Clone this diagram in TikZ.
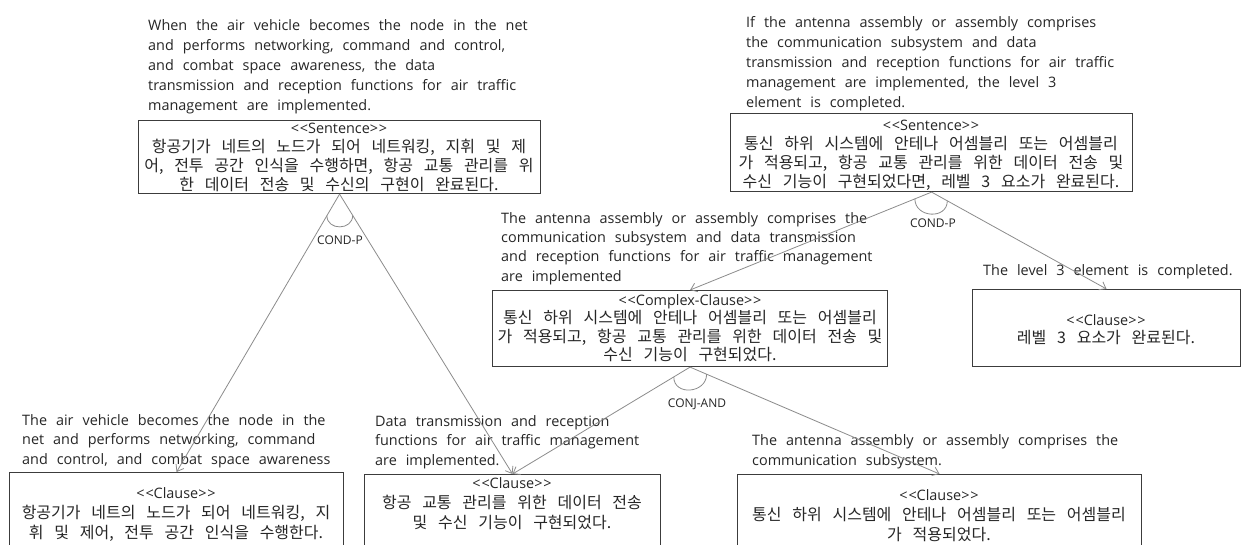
\documentclass[tikz,border=0pt]{standalone}
\usepackage{fontspec}
\setmainfont{Open Sans}[WordSpace=2.4]
\newfontfamily\krfont{Noto Sans CJK KR}[WordSpace=3]
\usetikzlibrary{arrows.meta,calc}

\definecolor{ink}{HTML}{262626}
\definecolor{edge}{HTML}{8C8C8C}
\definecolor{frame}{HTML}{3C3C3C}

% stereotype line set in the Latin face
\newcommand{\stereo}[1]{{\normalfont\fontsize{14.4}{19}\selectfont <\kern0.8pt<#1>\kern0.8pt>}}

\begin{document}
\begin{tikzpicture}[x=1pt,y=-1pt,
  note/.style={anchor=base west, align=left, inner sep=0pt,
    font=\fontsize{14.4}{#1}\selectfont, text=ink},
  note/.default=19.7,
  boxtext/.style={anchor=base, align=center, inner sep=0pt,
    font=\fontsize{16}{#1}\krfont, text=ink},
  boxtext/.default=19,
  frame/.style={draw=frame, line width=1.1pt, anchor=north west, inner sep=0pt},
  conn/.style={draw=edge, line width=0.8pt, -{Straight Barb[length=6pt,width=9pt]}},
  joint/.style={draw=edge, line width=0.8pt},
  rel/.style={font=\fontsize{12}{12}\selectfont, text=ink, inner sep=0pt}]

\path[use as bounding box] (0,0) rectangle (1242,544);
\fill[white] (0,0) rectangle (1242,544);
\clip (0,0) rectangle (1242,544);

% ---- frames ----
\node[frame, minimum width=402pt, minimum height=73pt] (s1) at (138,120) {};
\node[frame, minimum width=402pt, minimum height=78pt] (s2) at (730,113) {};
\node[frame, minimum width=395pt, minimum height=76pt] (cc) at (492,290) {};
\node[frame, minimum width=268pt, minimum height=77pt] (l3) at (972,289) {};
\node[frame, minimum width=334pt, minimum height=100pt] (c1) at (9,472) {};
\node[frame, minimum width=296pt, minimum height=100pt] (c2) at (364,474) {};
\node[frame, minimum width=404pt, minimum height=100pt] (c3) at (737,474) {};

% ---- frame contents (placed by the baseline of the last line) ----
\node[boxtext=19] (s1t) at (339,190.5) {\stereo{Sentence}\\
  항공기가 네트의 노드가 되어 네트워킹, 지휘 및 제\\
  어, 전투 공간 인식을 수행하면, 항공 교통 관리를 위\\
  한 데이터 전송 및 수신의 구현이 완료된다.};
\node[boxtext=19] (s2t) at (931,187) {\stereo{Sentence}\\
  통신 하위 시스템에 안테나 어셈블리 또는 어셈블리\\
  가 적용되고, 항공 교통 관리를 위한 데이터 전송 및\\
  수신 기능이 구현되었다면, 레벨 3 요소가 완료된다.};
\node[boxtext=18.5] (cct) at (690,360.5) {\stereo{Complex-Clause}\\
  통신 하위 시스템에 안테나 어셈블리 또는 어셈블리\\
  가 적용되고, 항공 교통 관리를 위한 데이터 전송 및\\
  수신 기능이 구현되었다.};
\node[boxtext=18] (l3t) at (1106,343.5) {\stereo{Clause}\\
  레벨 3 요소가 완료된다.};
\node[boxtext=20] (c1t) at (176,538.5) {\stereo{Clause}\\
  항공기가 네트의 노드가 되어 네트워킹, 지\\
  휘 및 제어, 전투 공간 인식을 수행한다.};
\node[boxtext=20] (c2t) at (512,528.5) {\stereo{Clause}\\
  항공 교통 관리를 위한 데이터 전송\\
  및 수신 기능이 구현되었다.};
\node[boxtext=20] (c3t) at (939,540.5) {\stereo{Clause}\\
  통신 하위 시스템에 안테나 어셈블리 또는 어셈블리\\
  가 적용되었다.};

% ---- English glosses (placed by the baseline of the last line) ----
\node[note=20] (n1) at (148,110) {When the air vehicle becomes the node in the net\\
  and performs networking, command and control,\\
  and combat space awareness, the data\\
  transmission and reception functions for air traffic\\
  management are implemented.};
\node[note=20] (n2) at (746,107) {If the antenna assembly or assembly comprises\\
  the communication subsystem and data\\
  transmission and reception functions for air traffic\\
  management are implemented, the level 3\\
  element is completed.};
\node[note=19.3] (ncc) at (501,281) {The antenna assembly or assembly comprises the\\
  communication subsystem and data transmission\\
  and reception functions for air traffic management\\
  are implemented};
\node[note] (nl3) at (983,275) {The level 3 element is completed.};
\node[note=19.5] (nc1) at (22,464) {The air vehicle becomes the node in the\\
  net and performs networking, command\\
  and control, and combat space awareness};
\node[note=19.5] (nc2) at (375,465) {Data transmission and reception\\
  functions for air traffic management\\
  are implemented.};
\node[note=20] (nc3) at (752,465) {The antenna assembly or assembly comprises the\\
  communication subsystem.};

% ---- connectors ----
\draw[conn] (s1.south) -- (c1.north);
\draw[conn] (s1.south) -- (c2.north);
\draw[conn] (s2.south) -- (cc.north);
\draw[conn] (s2.south) -- (l3.north);
\draw[conn] (cc.south) -- (c2.north);
\draw[conn] (cc.south) -- (c3.north);

% ---- relation arcs, hanging below each fork ----
\draw[joint] ($(s1.south)!25pt!(c1.north)$) to[out=-90,in=-90,looseness=1.5] ($(s1.south)!25pt!(c2.north)$);
\draw[joint] ($(s2.south)!18pt!(cc.north)$) to[out=-90,in=-90,looseness=1.5] ($(s2.south)!18pt!(l3.north)$);
\draw[joint] ($(cc.south)!19pt!(c2.north)$) to[out=-90,in=-90,looseness=1.5] ($(cc.south)!18pt!(c3.north)$);

\node[rel] (r1) at (340,240) {COND-P};
\node[rel] (r2) at (933,223) {COND-P};
\node[rel] (r3) at (697,404) {CONJ-AND};
\end{tikzpicture}
\end{document}
